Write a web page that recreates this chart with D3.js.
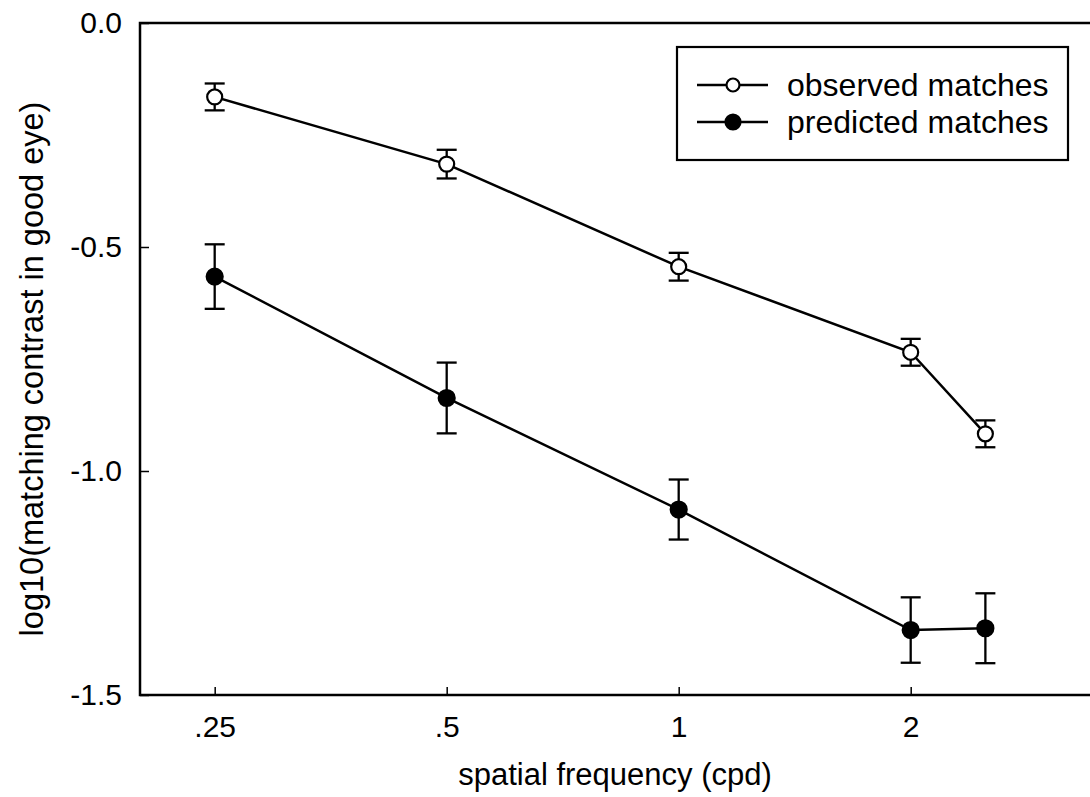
<!DOCTYPE html>
<html>
<head>
    <title>Matching contrast</title>
    <script src="https://d3js.org/d3.v7.min.js"></script>
    <style>
        body { margin: 0; background: white; }
        text { font-family: "Liberation Sans", Arial, sans-serif; fill: #000; }
    </style>
</head>
<body>
    <div id="chart"></div>
    <script>
        // data
        const freqs = [0.25, 0.5, 1, 2, 2.5];
        const observed = [-0.165, -0.315, -0.544, -0.735, -0.917];
        const observedErr = [0.030, 0.032, 0.031, 0.030, 0.030];
        const predicted = [-0.566, -0.837, -1.086, -1.355, -1.351];
        const predictedErr = [0.072, 0.079, 0.067, 0.073, 0.078];

        const xTicks = [0.25, 0.5, 1, 2];
        const xTickLabels = [".25", ".5", "1", "2"];
        const yTicks = [0, -0.5, -1.0, -1.5];
        const yTickLabels = ["0.0", "-0.5", "-1.0", "-1.5"];

        const seriesNames = ["observed matches", "predicted matches"];

        const width = 1090, height = 797;
        const margin = { top: 23, left: 140, bottom: 102 };
        const plotRight = 1098;   // right frame sits just past the picture edge

        const svg = d3.select("#chart")
            .append("svg")
            .attr("width", width)
            .attr("height", height);

        const x = d3.scaleLog()
            .domain([0.2, 3.5])
            .range([margin.left, plotRight]);

        const y = d3.scaleLinear()
            .domain([-1.5, 0])
            .range([height - margin.bottom, margin.top]);

        // axes (ticks point inward)
        const xAxis = svg.append("g")
            .attr("transform", `translate(0,${y(-1.5)})`)
            .call(d3.axisBottom(x)
                .tickValues(xTicks)
                .tickFormat((d, i) => xTickLabels[i])
                .tickSize(-8)
                .tickPadding(21));

        const yAxis = svg.append("g")
            .attr("transform", `translate(${x(0.2)},0)`)
            .call(d3.axisLeft(y)
                .tickValues(yTicks)
                .tickFormat((d, i) => yTickLabels[i])
                .tickSize(-9)
                .tickPadding(18));

        [xAxis, yAxis].forEach(g => {
            g.select(".domain").remove();
            g.selectAll(".tick line").attr("stroke", "#000").attr("stroke-width", 1.5);
            g.selectAll(".tick text")
                .style("font-family", '"Liberation Sans", Arial, sans-serif')
                .style("font-size", "30px")
                .attr("fill", "#000");
        });

        // frame
        svg.append("rect")
            .attr("x", x(0.2))
            .attr("y", y(0))
            .attr("width", x(3.5) - x(0.2))
            .attr("height", y(-1.5) - y(0))
            .attr("fill", "none")
            .attr("stroke", "#000")
            .attr("stroke-width", 2.5);

        // axis titles
        svg.append("text")
            .attr("x", 615)
            .attr("y", 785)
            .attr("text-anchor", "middle")
            .style("font-size", "31px")
            .text("spatial frequency (cpd)");

        svg.append("text")
            .attr("transform", `translate(43,${369}) rotate(-90)`)
            .attr("text-anchor", "middle")
            .style("font-size", "32.5px")
            .text("log10(matching contrast in good eye)");

        const line = d3.line()
            .x(d => x(d.f))
            .y(d => y(d.v));

        const series = [
            { name: seriesNames[0], values: observed, errs: observedErr, fill: "#fff" },
            { name: seriesNames[1], values: predicted, errs: predictedErr, fill: "#000" }
        ].map(s => ({
            ...s,
            points: freqs.map((f, i) => ({ f: f, v: s.values[i], e: s.errs[i] }))
        }));

        const capHalf = 10;

        series.forEach(s => {
            const g = svg.append("g");

            g.append("path")
                .datum(s.points)
                .attr("d", line)
                .attr("fill", "none")
                .attr("stroke", "#000")
                .attr("stroke-width", 2.5);

            // error bars
            const eb = g.selectAll(".err")
                .data(s.points)
                .join("g")
                .attr("stroke", "#000")
                .attr("stroke-width", 2.3);

            eb.append("line")
                .attr("x1", d => x(d.f)).attr("x2", d => x(d.f))
                .attr("y1", d => y(d.v + d.e)).attr("y2", d => y(d.v - d.e));
            eb.append("line")
                .attr("x1", d => x(d.f) - capHalf).attr("x2", d => x(d.f) + capHalf)
                .attr("y1", d => y(d.v + d.e)).attr("y2", d => y(d.v + d.e));
            eb.append("line")
                .attr("x1", d => x(d.f) - capHalf).attr("x2", d => x(d.f) + capHalf)
                .attr("y1", d => y(d.v - d.e)).attr("y2", d => y(d.v - d.e));

            g.selectAll("circle")
                .data(s.points)
                .join("circle")
                .attr("cx", d => x(d.f))
                .attr("cy", d => y(d.v))
                .attr("r", s.fill === "#000" ? 8 : 7.5)
                .attr("fill", s.fill)
                .attr("stroke", "#000")
                .attr("stroke-width", 2.2);
        });

        // legend
        const legend = svg.append("g");
        legend.append("rect")
            .attr("x", 677)
            .attr("y", 47)
            .attr("width", 391)
            .attr("height", 113)
            .attr("fill", "#fff")
            .attr("stroke", "#000")
            .attr("stroke-width", 2.2);

        series.forEach((s, i) => {
            const ly = 85 + i * 37;
            legend.append("line")
                .attr("x1", 697).attr("x2", 768)
                .attr("y1", ly).attr("y2", ly)
                .attr("stroke", "#000")
                .attr("stroke-width", 2.3);
            legend.append("circle")
                .attr("cx", 733)
                .attr("cy", ly)
                .attr("r", s.fill === "#000" ? 7.5 : 6.5)
                .attr("fill", s.fill)
                .attr("stroke", "#000")
                .attr("stroke-width", 2.2);
            legend.append("text")
                .attr("x", 787)
                .attr("y", ly + 11)
                .style("font-size", "32px")
                .text(s.name);
        });
    </script>
</body>
</html>
